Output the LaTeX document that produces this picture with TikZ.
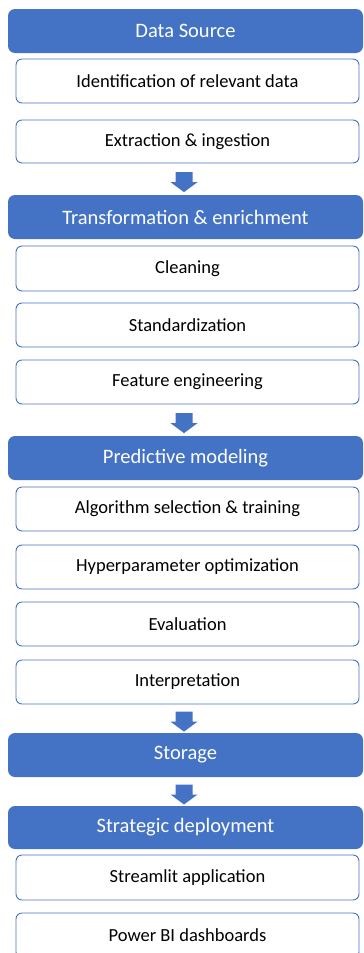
\documentclass[tikz,border=0pt]{standalone}
\usepackage{fontspec}
\setmainfont{Carlito}
\usetikzlibrary{calc}
\definecolor{flowblue}{HTML}{4472C4}
\tikzset{
  x=1pt, y=-1pt,
  stage/.style={fill=flowblue, text=white, rounded corners=7pt, inner sep=0,
    minimum width=355pt, font=\fontsize{20.5}{24}\selectfont},
  task/.style={draw=flowblue, line width=0.9pt, fill=white, rounded corners=6pt, inner sep=0,
    minimum width=343pt, font=\fontsize{18.5}{22}\selectfont},
  blockarrow/.style={fill=flowblue}
}
% stage header: name, top, bottom, text
\newcommand{\stagebox}[4]{%
  \node[stage, minimum height={#3-#2}] (#1) at (185.5,{(#2+#3)/2}) {#4};
}
% task box: name, top, bottom, text
\newcommand{\taskbox}[4]{%
  \node[task, minimum height={#3-#2}] (#1) at (187.5,{(#2+#3)/2}) {#4};
}
% down block arrow centred in the gap between two nodes
\newcommand{\flowarrow}[2]{%
  \coordinate (m) at ($(#1.south)!0.5!(#2.north)$);
  \coordinate (m) at (184,0 |- m);
  \fill[blockarrow] ($(m)+(-8.5,-7)$) -- ($(m)+(8.5,-7)$) -- ($(m)+(8.5,3)$) -- ($(m)+(13.5,3)$)
    -- ($(m)+(0,13)$) -- ($(m)+(-13.5,3)$) -- ($(m)+(-8.5,3)$) -- cycle;
}
\begin{document}
\begin{tikzpicture}
\useasboundingbox (0,0) rectangle (364,953);
\stagebox{src}{9}{53}{Data Source}
\taskbox{ident}{59}{103}{Identification of relevant data}
\taskbox{extr}{120}{163}{Extraction \& ingestion}
\stagebox{trans}{195}{239}{Transformation \& enrichment}
\taskbox{clean}{246}{291}{Cleaning}
\taskbox{std}{303}{347}{Standardization}
\taskbox{feat}{360}{404}{Feature engineering}
\stagebox{pred}{436}{480}{Predictive modeling}
\taskbox{algo}{487}{531}{Algorithm selection \& training}
\taskbox{hyper}{545}{589}{Hyperparameter optimization}
\taskbox{eval}{602}{646}{Evaluation}
\taskbox{interp}{660}{704}{Interpretation}
\stagebox{store}{733}{777}{Storage}
\stagebox{deploy}{806}{849}{Strategic deployment}
\taskbox{stream}{855}{900}{Streamlit application}
\taskbox{pbi}{913}{958}{Power BI dashboards}
\flowarrow{extr}{trans}
\flowarrow{feat}{pred}
\flowarrow{interp}{store}
\flowarrow{store}{deploy}
\end{tikzpicture}
\end{document}
